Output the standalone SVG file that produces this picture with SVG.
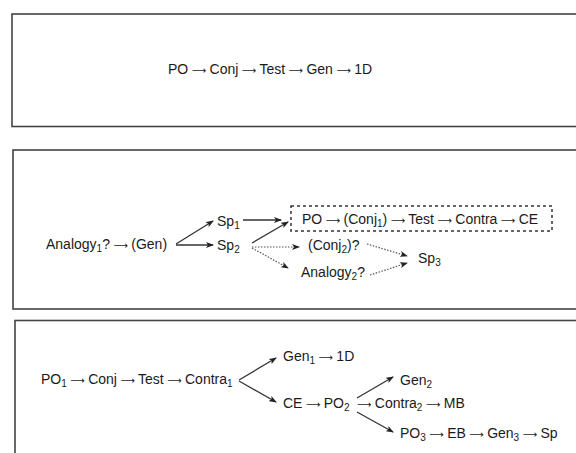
<svg xmlns="http://www.w3.org/2000/svg" width="576" height="453" viewBox="0 0 576 453">
<style>
text{font-family:"Liberation Sans",Arial,sans-serif;font-size:14px;fill:#1a1a1a;word-spacing:-0.4px}
.sub{font-size:10px}
.ar{font-family:"DejaVu Sans",sans-serif;font-size:10px}
.frame{fill:none;stroke:#444;stroke-width:1.6}
.dbox{fill:none;stroke:#333;stroke-width:1.5;stroke-dasharray:3 3}
.c{fill:none;stroke:#333;stroke-width:1.3}
.d{fill:none;stroke:#555;stroke-width:1.2;stroke-dasharray:1.5 1.5}
</style>
<defs>
<marker id="ah" markerWidth="8" markerHeight="6" refX="7" refY="3" orient="auto" markerUnits="userSpaceOnUse">
<path d="M0,0 L8,3 L0,6 L2,3 z" fill="#222"/>
</marker>
</defs>
<g id="frames">
<rect class="frame" x="12" y="14" width="580" height="112.5"/>
<rect class="frame" x="13" y="150" width="580" height="159"/>
<rect class="frame" x="15" y="320.5" width="580" height="150"/>
</g>
<g id="n-row1"><text x="168" y="74">PO <tspan class="ar">⟶</tspan> Conj <tspan class="ar">⟶</tspan> Test <tspan class="ar">⟶</tspan> Gen <tspan class="ar">⟶</tspan> 1D</text></g>
<g id="n-analogy1"><text x="46" y="249">Analogy<tspan class="sub" dy="3">1</tspan><tspan dy="-3">? </tspan><tspan class="ar">⟶</tspan> (Gen)</text></g>
<g id="n-sp1"><text x="217" y="226">Sp<tspan class="sub" dy="3">1</tspan></text></g>
<g id="n-sp2"><text x="217" y="250">Sp<tspan class="sub" dy="3">2</tspan></text></g>
<g id="n-chain2"><rect class="dbox" x="291" y="206" width="261" height="25"/>
<text x="302" y="224">PO <tspan class="ar">⟶</tspan> (Conj<tspan class="sub" dy="3">1</tspan><tspan dy="-3">) </tspan><tspan class="ar">⟶</tspan> Test <tspan class="ar">⟶</tspan> Contra <tspan class="ar">⟶</tspan> CE</text></g>
<g id="n-conj2"><text x="308" y="250">(Conj<tspan class="sub" dy="3">2</tspan><tspan dy="-3">)?</tspan></text></g>
<g id="n-analogy2"><text x="301" y="277">Analogy<tspan class="sub" dy="3">2</tspan><tspan dy="-3">?</tspan></text></g>
<g id="n-sp3"><text x="418" y="263">Sp<tspan class="sub" dy="3">3</tspan></text></g>
<g id="n-chain3"><text x="41" y="384">PO<tspan class="sub" dy="3">1</tspan><tspan dy="-3"> </tspan><tspan class="ar">⟶</tspan> Conj <tspan class="ar">⟶</tspan> Test <tspan class="ar">⟶</tspan> Contra<tspan class="sub" dy="3">1</tspan></text></g>
<g id="n-gen1"><text x="283" y="361">Gen<tspan class="sub" dy="3">1</tspan><tspan dy="-3"> </tspan><tspan class="ar">⟶</tspan> 1D</text></g>
<g id="n-ce"><text x="283" y="408">CE <tspan class="ar">⟶</tspan> PO<tspan class="sub" dy="3">2</tspan></text></g>
<g id="n-gen2"><text x="400" y="385">Gen<tspan class="sub" dy="3">2</tspan></text></g>
<g id="n-contra2"><text x="357" y="408"><tspan class="ar">⟶</tspan> Contra<tspan class="sub" dy="3">2</tspan><tspan dy="-3"> </tspan><tspan class="ar">⟶</tspan> MB</text></g>
<g id="n-po3"><text x="400" y="438">PO<tspan class="sub" dy="3">3</tspan><tspan dy="-3"> </tspan><tspan class="ar">⟶</tspan> EB <tspan class="ar">⟶</tspan> Gen<tspan class="sub" dy="3">3</tspan><tspan dy="-3"> </tspan><tspan class="ar">⟶</tspan> Sp</text></g>
<g id="connectors">
<path class="c" d="M176,244 L213,221" marker-end="url(#ah)"/>
<path class="c" d="M176,245 L213,245" marker-end="url(#ah)"/>
<path class="c" d="M243,220 L281,220" marker-end="url(#ah)"/>
<path class="c" d="M252,243 L288,222" marker-end="url(#ah)"/>
<path class="d" d="M252,247 L299,247" marker-end="url(#ah)"/>
<path class="d" d="M252,248 L288,268" marker-end="url(#ah)"/>
<path class="d" d="M367,244 L407,256" marker-end="url(#ah)"/>
<path class="d" d="M370,275 L407,263" marker-end="url(#ah)"/>
<path class="c" d="M239,380 L276,358" marker-end="url(#ah)"/>
<path class="c" d="M239,381 L276,402" marker-end="url(#ah)"/>
<path class="c" d="M357,398 L393,377" marker-end="url(#ah)"/>
<path class="c" d="M357,412 L393,432" marker-end="url(#ah)"/>
</g>
</svg>
